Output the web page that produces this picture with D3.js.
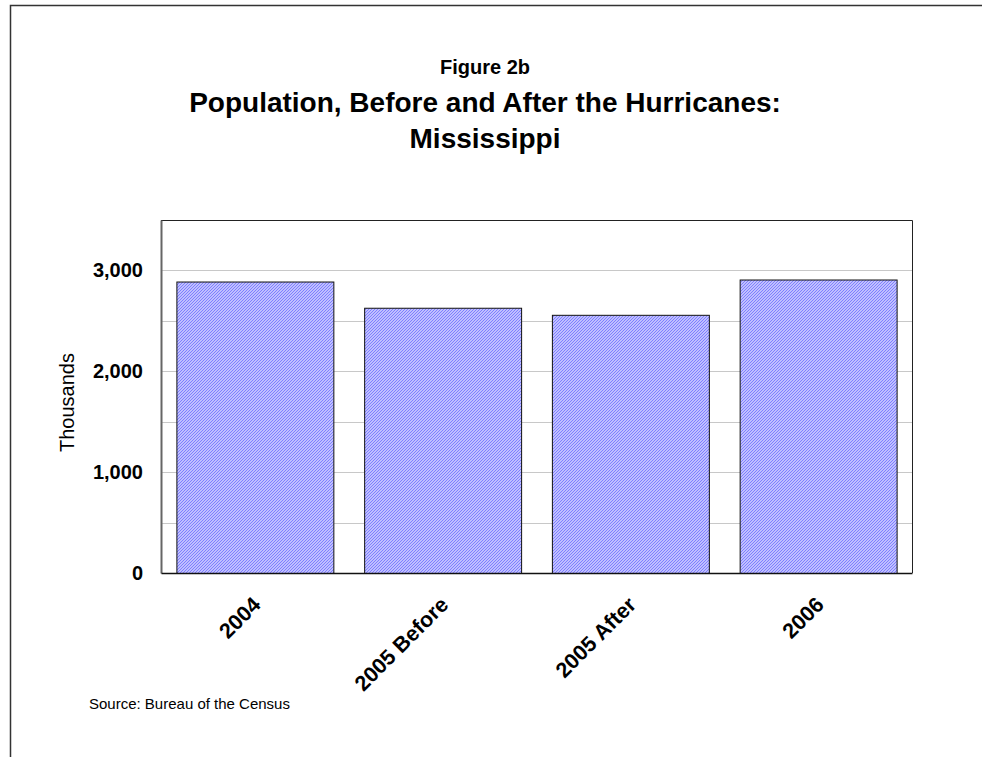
<!DOCTYPE html>
<html>
<head>
<meta charset="utf-8">
<script src="https://cdn.jsdelivr.net/npm/d3@7"></script>
<style>
  html, body { margin: 0; padding: 0; background: #fff; }
  svg { display: block; }
  text { font-family: Arial, "Liberation Sans", sans-serif; }
</style>
</head>
<body>
<script>
const categories = ["2004", "2005 Before", "2005 After", "2006"];
const values = [2890, 2630, 2560, 2910];
const yTickLabels = [0, 1000, 2000, 3000];
const gridValues = [500, 1000, 1500, 2000, 2500, 3000, 3500];
const titleLines = ["Figure 2b", "Population, Before and After the Hurricanes:", "Mississippi"];
const yAxisTitle = "Thousands";
const sourceText = "Source: Bureau of the Census";

const W = 982, H = 757;
const plot = { left: 161, right: 912, top: 220, bottom: 573 };

const svg = d3.select("body").append("svg").attr("width", W).attr("height", H);

const defs = svg.append("defs");
const pat = defs.append("pattern")
  .attr("id", "hatch").attr("patternUnits", "userSpaceOnUse")
  .attr("width", 3).attr("height", 3);
pat.append("rect").attr("width", 3).attr("height", 3).attr("fill", "#dcdcff");
pat.append("path").attr("d", "M-1,1 L1,-1 M0,3 L3,0 M2,4 L4,2")
  .attr("stroke", "#7a7aff").attr("stroke-width", 1.1);

// outer frame
svg.append("path").attr("d", `M10.5,${H + 5} L10.5,5.5 L${W + 5},5.5`)
  .attr("fill", "none").attr("stroke", "#333").attr("stroke-width", 1.5);

const x = d3.scaleBand().domain(categories).range([plot.left, plot.right]).paddingInner(0.164).paddingOuter(0.082);
const y = d3.scaleLinear().domain([0, 3500]).range([plot.bottom, plot.top]);

// gridlines
svg.append("g").selectAll("line").data(gridValues).join("line")
  .attr("x1", plot.left).attr("x2", plot.right)
  .attr("y1", d => Math.round(y(d)) + 0.5).attr("y2", d => Math.round(y(d)) + 0.5)
  .attr("stroke", "#c8c8c8").attr("stroke-width", 1);

// plot frame top/right
svg.append("path").attr("d", `M${plot.left},${plot.top + 0.5} L${plot.right + 0.5},${plot.top + 0.5} L${plot.right + 0.5},${plot.bottom}`)
  .attr("fill", "none").attr("stroke", "#222").attr("stroke-width", 1);

// bars
svg.append("g").selectAll("rect").data(categories).join("rect")
  .attr("x", d => x(d) + 0.5)
  .attr("y", (d, i) => y(values[i]) + 0.5)
  .attr("width", x.bandwidth())
  .attr("height", (d, i) => y(0) - y(values[i]))
  .attr("fill", "url(#hatch)")
  .attr("stroke", "#111").attr("stroke-width", 1);

// y axis
const yAxis = d3.axisLeft(y).tickValues(yTickLabels).tickSize(0).tickPadding(18)
  .tickFormat(d3.format(","));
const gy = svg.append("g").attr("transform", `translate(${plot.left},0)`).call(yAxis);
gy.select(".domain").attr("stroke", "#666").attr("stroke-width", 2);
gy.selectAll("text").attr("font-size", 20).attr("font-weight", "bold").attr("fill", "#000")
  .attr("font-family", "Arial, 'Liberation Sans', sans-serif");

// x axis
const xAxis = d3.axisBottom(x).tickSize(0).tickPadding(0);
const gx = svg.append("g").attr("transform", `translate(0,${plot.bottom})`).call(xAxis);
gx.select(".domain").attr("stroke", "#111").attr("stroke-width", 1.5);
gx.selectAll("text")
  .attr("font-size", 21.5).attr("font-weight", "bold").attr("fill", "#000")
  .attr("font-family", "Arial, 'Liberation Sans', sans-serif")
  .attr("text-anchor", "end").attr("dy", null).attr("y", 0)
  .attr("transform", "translate(7,33) rotate(-45)");

// y axis title
svg.append("text").attr("transform", `translate(74,${(plot.top + plot.bottom) / 2 + 6}) rotate(-90)`)
  .attr("text-anchor", "middle").attr("font-size", 20).text(yAxisTitle);

// titles
const titleY = [74, 112, 148];
const titleSize = [20, 28, 28];
svg.append("g").selectAll("text").data(titleLines).join("text")
  .attr("x", 485).attr("y", (d, i) => titleY[i])
  .attr("text-anchor", "middle").attr("font-weight", "bold")
  .attr("font-size", (d, i) => titleSize[i]).text(d => d);

// source
svg.append("text").attr("x", 89).attr("y", 709).attr("font-size", 15).text(sourceText);
</script>
</body>
</html>
